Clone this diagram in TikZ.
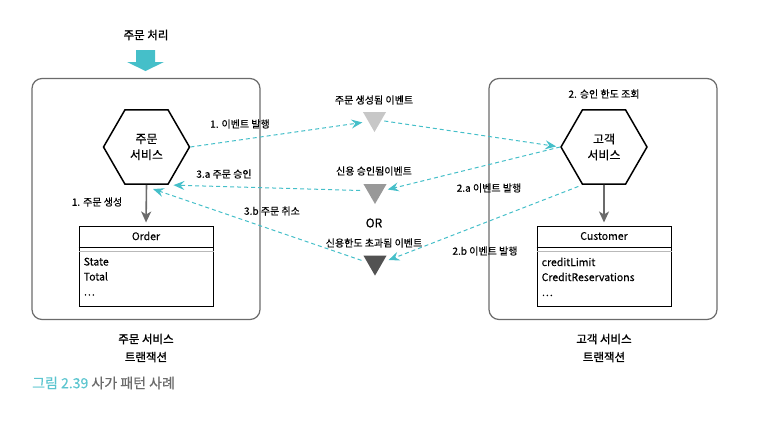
\documentclass[tikz,border=0pt]{standalone}
\usepackage{fontspec}
\setmainfont{Noto Sans CJK KR}[FakeBold=0.35]
\newfontfamily\medfont{Noto Sans CJK KR}[FakeBold=1.2]
\usetikzlibrary{shapes.geometric,arrows.meta}
\definecolor{sagateal}{HTML}{45BFC9}
\definecolor{capteal}{HTML}{5CC5CF}
\definecolor{boxgray}{HTML}{6B6B6B}
\tikzset{%
  svc/.style    = {regular polygon, regular polygon sides=6, draw,%
                   line width=1.5pt, minimum size=86pt, inner sep=0pt,%
                   align=center, font=\fontsize{12}{16}\selectfont},%
  evt/.style    = {regular polygon, regular polygon sides=3,%
                   shape border rotate=180, minimum size=26.6pt, inner sep=0pt},%
  txbox/.style  = {draw=boxgray, line width=1.2pt, rounded corners=10pt,%
                   minimum width=228pt, minimum height=241pt},%
  entity/.style = {draw, line width=1pt, minimum width=134pt, minimum height=80pt},%
  lbl/.style    = {font=\fontsize{10}{12}\selectfont},%
  msg/.style    = {draw=sagateal, line width=1pt, dash pattern=on 4pt off 3pt,%
                   -{Stealth[length=11pt,width=9pt,inset=4pt,fill=sagateal]}},%
  own/.style    = {draw=boxgray, line width=1.6pt,%
                   -{Stealth[length=11pt,width=10pt,inset=3pt,fill=boxgray]}}%
}

\begin{document}
\begin{tikzpicture}[x=1pt,y=-1pt,
	every node/.style = {inner sep=1pt}]
	\useasboundingbox (0,0) rectangle (772,421);
	% transactions
	\node [txbox] (ordertx) at (146,199) {};
	\node [txbox] (custtx) at (603,199) {};
	\node [align=center, font=\medfont\fontsize{11.5}{18}\selectfont] at (146,348) {주문 서비스\\트랜잭션};
	\node [align=center, font=\medfont\fontsize{11.5}{18}\selectfont] at (604,348) {고객 서비스\\트랜잭션};
	% request
	\node [font=\medfont\fontsize{11.5}{14}\selectfont] (req) at (146,35) {주문 처리};
	\fill [sagateal] (136,50) -- (155,50) -- (155,62) -- (164,62) -- (145.5,71)
		-- (127,62) -- (136,62) -- cycle;
	% services
	\node [svc] (ordersvc) at (146.5,147) {주문\\서비스};
	\node [svc] (custsvc) at (604,147) {고객\\서비스};
	\node [lbl] at (604,94) {2. 승인 한도 조회};
	% entities
	\node [entity] (order) at (146,266) {};
	\node [entity] (cust) at (604,266) {};
	\node [font=\fontsize{10.5}{13}\selectfont] at (146,236) {Order};
	\node [font=\fontsize{10.5}{13}\selectfont] at (604,236) {Customer};
	\foreach \e in {order,cust}{
		\draw [line width=0.8pt] ([yshift=-22pt]\e.north west) -- ([yshift=-22pt]\e.north east);
		\draw [gray!55, line width=1.6pt] ([yshift=-26pt]\e.north west) -- ([yshift=-26pt]\e.north east);
	}
	\node [anchor=north west, align=left, font=\fontsize{10.5}{15}\selectfont]
		at ([xshift=4pt,yshift=-31pt]order.north west) {State\\Total\\…};
	\node [anchor=north west, align=left, font=\fontsize{10.5}{15}\selectfont]
		at ([xshift=4pt,yshift=-31pt]cust.north west) {creditLimit\\CreditReservations\\…};
	\draw [own, shorten >=3pt] (ordersvc.south) -- (order.north);
	\draw [own, shorten >=3pt] (custsvc.south) -- (cust.north);
	\node [lbl] at (97,202) {1. 주문 생성};
	% events
	\node [evt, fill=black!22] (created) at (374.5,118.7) {};
	\node [evt, fill=black!40] (approved) at (375,190.7) {};
	\node [evt, fill=black!68] (exceeded) at (375,262.3) {};
	\node [lbl] at (374,100) {주문 생성됨 이벤트};
	\node [lbl] at (374,171) {신용 승인됨이벤트};
	\node [font=\fontsize{12}{14}\selectfont] at (374,223) {OR};
	\node [lbl] at (374,243) {신용한도 초과됨 이벤트};
	% messages
	\coordinate (cancelin) at (153,189);
	\draw [msg, shorten >=6pt] (ordersvc.0) -- (created.205);
	\draw [msg, shorten <=3pt, shorten >=4pt] (created.-15) -- (custsvc.180);
	\draw [msg, shorten >=5pt] (custsvc.180) -- (approved.east);
	\draw [msg, shorten <=7pt, shorten >=5pt] (approved.west) -- (ordersvc.-60);
	\draw [msg, shorten <=4pt, shorten >=6pt] (custsvc.-120) -- (exceeded.east);
	\draw [msg, shorten <=6pt] (exceeded.west) -- (cancelin);
	\node [lbl] at (240,124) {1. 이벤트 발행};
	\node [lbl] at (489,188) {2.a 이벤트 발행};
	\node [lbl] at (224,174) {3.a 주문 승인};
	\node [lbl] at (485,251) {2.b 이벤트 발행};
	\node [lbl] at (272,211) {3.b 주문 취소};
	% caption
	\node [anchor=west, font=\fontsize{14}{16}\selectfont] at (31,383)
		{\textcolor{capteal}{그림 2.39} \textcolor{boxgray}{사가 패턴 사례}};
\end{tikzpicture}
\end{document}
